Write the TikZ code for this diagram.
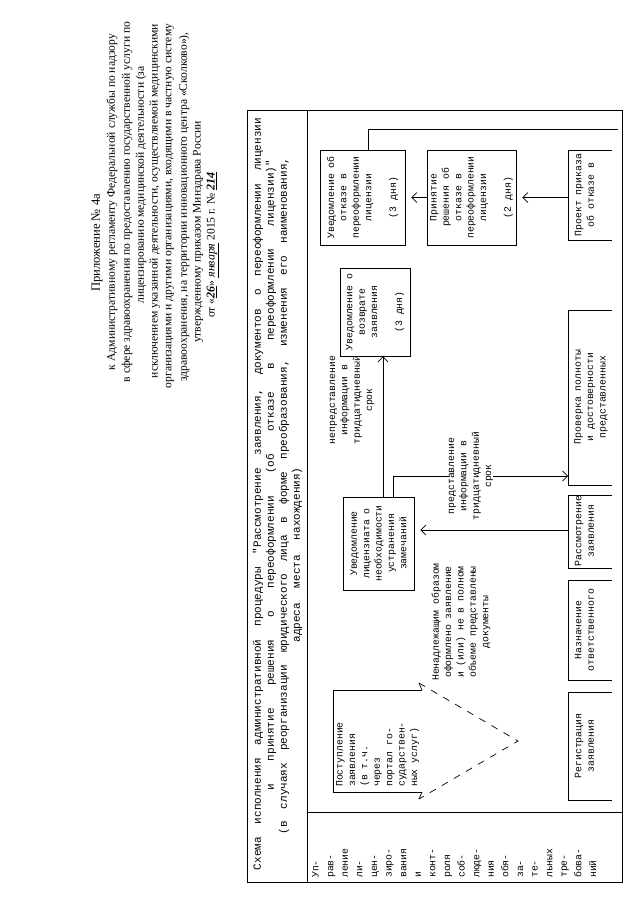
\documentclass[tikz,border=0pt]{standalone}
\usepackage{fontspec}
\setmainfont{Liberation Serif}
\setmonofont{Liberation Mono}
\usetikzlibrary{arrows.meta}
\newcommand{\jl}[2]{\makebox[#1][s]{\spaceskip=0.6em plus 1fil\relax #2}}
\begin{document}
\begin{tikzpicture}[x=1pt,y=-1pt,
  ln/.style={line width=0.7pt},
  hdr/.style={rotate=90,inner sep=0pt,font=\fontsize{11.6}{13}\selectfont},
  th/.style={rotate=90,inner sep=0pt,font=\ttfamily\fontsize{11}{12.4}\selectfont},
  box/.style={draw,line width=0.7pt,rotate=90,align=center,inner sep=2pt,font=\ttfamily\fontsize{9.8}{12.4}\selectfont},
  txt/.style={rotate=90,align=center,inner sep=0pt,font=\ttfamily\fontsize{9.8}{12.4}\selectfont},
  arr/.style={line width=0.7pt,-{Straight Barb[length=5pt,width=10pt]}},
]
\useasboundingbox (0,0) rectangle (640,905);
\fill[white] (0,0) rectangle (640,905);

% title block
\node[hdr,font=\fontsize{12.6}{14}\selectfont] (h1) at (97,243) {Приложение № 4а};
\node[hdr] (h2) at (112,202) {к Административному регламенту Федеральной службы по надзору};
\node[hdr] (h3) at (127,202) {в сфере здравоохранения по предоставлению государственной услуги по};
\node[hdr] (h4) at (141,185) {лицензированию медицинской деятельности (за};
\node[hdr] (h5) at (155,201) {исключением указанной деятельности, осуществляемой медицинскими};
\node[hdr] (h6) at (170,206) {организациями и другими организациями, входящими в частную систему};
\node[hdr] (h7) at (184,207) {здравоохранения, на территории инновационного центра «Сколково»),};
\node[hdr] (h8) at (198,232) {утвержденному приказом Минздрава России};
\node[hdr] (h9) at (213,245) {от «\underline{\textit{\textbf{\large 26}}}» \underline{\textit{\large января}} 2015 г. № \underline{\textit{\textbf{\large 214}}}};

% table frame
\draw[ln] (247,110) rectangle (622,882);
\draw[ln] (307,110) -- (307,882);
\draw[ln] (307,812) -- (622,812);
\node[th] (t1) at (258,494) {\jl{752pt}{Схема исполнения административной процедуры "Рассмотрение заявления, документов о переоформлении лицензии}};
\node[th] (t2) at (271,475) {\jl{630pt}{и принятие решения о переоформлении (об отказе в переоформлении лицензии)"}};
\node[th] (t3) at (284,496) {\jl{677pt}{(в случаях реорганизации юридического лица в форме преобразования, изменения его наименования,}};
\node[th] (t4) at (297,555) {\jl{175pt}{адреса места нахождения)}};

% lane label
\node[rotate=90,anchor=north west,align=left,inner sep=0pt,font=\ttfamily\fontsize{9.8}{14.6}\selectfont] (lane) at (312,878) {Уп-\\рав-\\ление\\ли-\\цен-\\зиро-\\вания\\и\\конт-\\роля\\соб-\\люде-\\ния\\обя-\\за-\\те-\\льных\\тре-\\бова-\\ний};

% row 1 boxes
\node[box,minimum width=95pt,minimum height=85pt] (uvotk) at (362.5,197.5) {Уведомление об\\отказе в\\переоформлении\\лицензии\\[12.4pt](3 дня)};
\node[box,minimum width=95pt,minimum height=89pt] (prin) at (471.5,197.5) {Принятие\\решения об\\отказе в\\переоформлении\\лицензии\\[12.4pt](2 дня)};
\node[box,minimum width=88pt,minimum height=70pt] (uvvozv) at (375,312) {Уведомление о\\возврате\\заявления\\[12.4pt](3 дня)};
\node[box,minimum width=93pt,minimum height=71pt] (uvlic) at (378.5,543.5) {Уведомление\\лицензиата о\\необходимости\\устранения\\замечаний};

% incoming application (box with arrow)
\node[rotate=90,anchor=north west,align=left,inner sep=0pt,font=\ttfamily\fontsize{9.8}{12.4}\selectfont] (post) at (336,787) {Поступление\\заявления\\(в т.ч.\\через\\портал го-\\сударствен-\\ных услуг)};
\draw[ln] (422,690) -- (333,690) -- (333,792) -- (422,792);
\draw[ln] (422,690) -- (419,683);
\draw[ln] (422,792) -- (419,799);
\draw[ln,dash pattern=on 7pt off 7pt] (419,683) -- (518,741) -- (419,799);

% edge labels
\node[txt] (nepred) at (352,400) {непредставление\\информации в\\тридцатидневный\\срок};
\node[txt] (pred) at (471,476) {представление\\информации в\\тридцатидневный\\срок};
\node[txt] (nenad) at (461,622) {Ненадлежащим образом\\оформлено заявление\\и (или) не в полном\\объеме представлены\\документы};

% row 3 (cut at page end)
\draw[ln] (612,692) -- (568,692) -- (568,800) -- (612,800);
\draw[ln] (612,580) -- (568,580) -- (568,680) -- (612,680);
\draw[ln] (612,495) -- (568,495) -- (568,568) -- (612,568);
\draw[ln] (612,310) -- (568,310) -- (568,485) -- (612,485);
\draw[ln] (612,150) -- (568,150) -- (568,240) -- (612,240);
\node[txt] (reg) at (584.5,746) {Регистрация\\заявления};
\node[txt] (naz) at (584.5,630) {Назначение\\ответственного};
\node[txt] (rass) at (584.5,531) {Рассмотрение\\заявления};
\node[txt] (prov) at (591,397) {Проверка полноты\\и достоверности\\представленных};
\node[txt] (proekt) at (584.5,195) {Проект приказа\\об отказе в};
\coordinate (rassTop) at (568,530);
\coordinate (provTop) at (568,476);
\coordinate (proektTop) at (568,197.5);
\coordinate (c7end) at (618,129);

% connectors
\draw[arr,shorten >=6pt] (proektTop) -- (prin.south);
\draw[arr,shorten >=6pt] (prin.north) -- (uvotk.south);
\draw[ln] ([xshift=5.5pt]uvotk.east) |- (c7end);
\draw[arr] ([xshift=4.5pt]uvlic.east) -- ([xshift=8pt]uvvozv.west);
\draw[ln] ([xshift=14.5pt]uvlic.east) |- (pred.north);
\draw[arr] (pred.south) -- (provTop);
\draw[arr,shorten >=6pt] (rassTop) -- (rassTop -| uvlic.south);
\end{tikzpicture}
\end{document}
